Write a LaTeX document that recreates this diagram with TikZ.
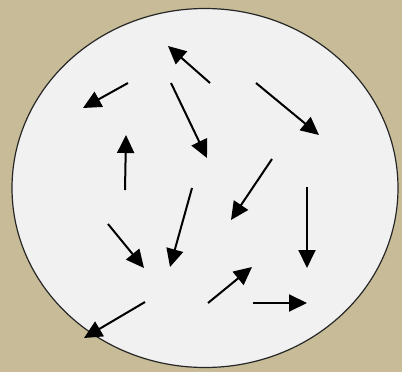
\documentclass[tikz,border=0pt]{standalone}
\usetikzlibrary{arrows.meta,shapes.geometric}
\definecolor{bgtan}{HTML}{C7BC97}
\definecolor{disc}{HTML}{F1F1F1}
\tikzset{
  vec/.style={line width=2pt, draw=black, -{Triangle[length=18pt,width=17pt]}}
}
\begin{document}
\begin{tikzpicture}[x=1pt,y=-1pt]
\fill[bgtan] (0,0) rectangle (402,372);
\useasboundingbox (0,0) rectangle (402,372);
\node[ellipse, draw=black!85, line width=1.2pt, fill=disc, minimum width=386pt, minimum height=359pt, inner sep=0pt] (cell) at (205,188) {};
% tails and heads
\coordinate (t1) at (128,83);  \coordinate (h1) at (83,108);
\coordinate (t2) at (210,83);  \coordinate (h2) at (168,46);
\coordinate (t3) at (171,83);  \coordinate (h3) at (207,158);
\coordinate (t4) at (256,83);  \coordinate (h4) at (319,135);
\coordinate (t5) at (125,190); \coordinate (h5) at (126,135);
\coordinate (t6) at (272,159); \coordinate (h6) at (231,220);
\coordinate (t7) at (192,188); \coordinate (h7) at (170,267);
\coordinate (t8) at (307,187); \coordinate (h8) at (307,268);
\coordinate (t9) at (108,224); \coordinate (h9) at (144,268);
\coordinate (t10) at (208,303); \coordinate (h10) at (252,267);
\coordinate (t11) at (253,303); \coordinate (h11) at (307,303);
\coordinate (t12) at (145,302); \coordinate (h12) at (84,338);
\foreach \i in {1,...,12} { \draw[vec] (t\i) -- (h\i); }
\end{tikzpicture}
\end{document}
